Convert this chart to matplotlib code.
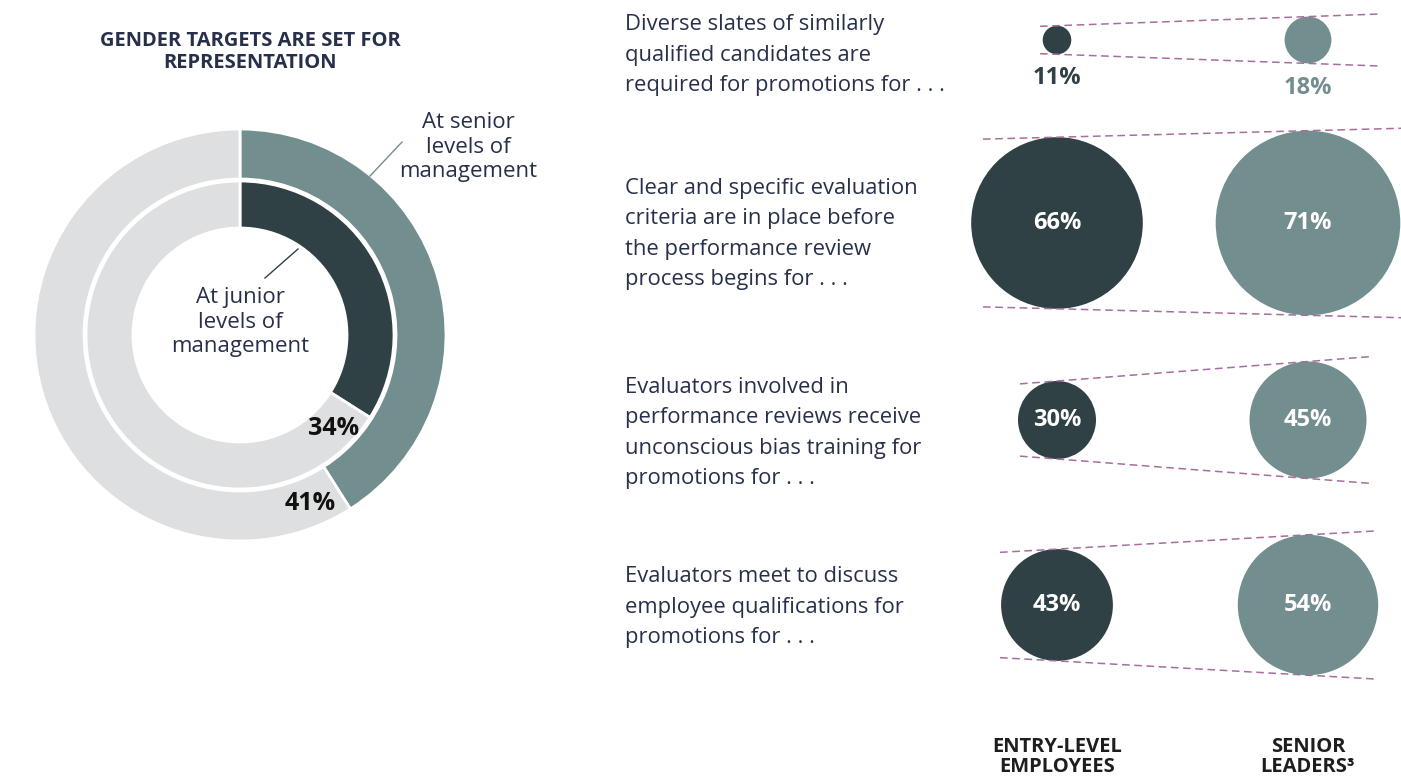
import matplotlib
matplotlib.use("Agg")
import matplotlib.pyplot as plt
from matplotlib.patches import Circle

plt.rcParams['font.family'] = ['Open Sans', 'DejaVu Sans']

# ---- data ----
donut_title = "GENDER TARGETS ARE SET FOR\nREPRESENTATION"
senior_target = 41
junior_target = 34
senior_label = "At senior\nlevels of\nmanagement"
junior_label = "At junior\nlevels of\nmanagement"

practices = [
    "Diverse slates of similarly\nqualified candidates are\nrequired for promotions for . . .",
    "Clear and specific evaluation\ncriteria are in place before\nthe performance review\nprocess begins for . . .",
    "Evaluators involved in\nperformance reviews receive\nunconscious bias training for\npromotions for . . .",
    "Evaluators meet to discuss\nemployee qualifications for\npromotions for . . .",
]
entry_level = [11, 66, 30, 43]
senior_leaders = [18, 71, 45, 54]
column_labels = ["ENTRY-LEVEL\nEMPLOYEES", "SENIOR\nLEADERS\u00b3"]

# ---- style ----
DARK = '#2F4145'
TEAL = '#738E8F'
GREY = '#DEDFE1'
NAVY = '#27304A'
DASH = '#A56E9E'

W, H = 1401, 778
fig = plt.figure(figsize=(W / 100, H / 100), dpi=100)
ax = fig.add_axes([0, 0, 1, 1])

def Y(py):
    return H - py

# ---- donut ----
cx, cy = 240, Y(335)
ax.pie([senior_target, 100 - senior_target], radius=206, center=(cx, cy),
       colors=[TEAL, GREY], startangle=90, counterclock=False,
       wedgeprops=dict(width=50, edgecolor='white', linewidth=2))
ax.pie([junior_target, 100 - junior_target], radius=154, center=(cx, cy),
       colors=[DARK, GREY], startangle=90, counterclock=False,
       wedgeprops=dict(width=47, edgecolor='white', linewidth=2))

ax.text(250, Y(52), donut_title, ha='center', va='center', fontsize=14.5,
        fontweight='bold', color=NAVY, linespacing=1.15)
ax.text(468, Y(147), senior_label, ha='center', va='center', fontsize=16,
        color=NAVY, linespacing=1.22)
ax.plot([370, 402], [Y(176), Y(142)], color=TEAL, lw=1)
ax.text(240, Y(322), junior_label, ha='center', va='center', fontsize=16,
        color=NAVY, linespacing=1.22)
ax.plot([265, 298], [Y(278), Y(249)], color=DARK, lw=1)
ax.text(334, Y(428), f"{junior_target}%", ha='center', va='center',
        fontsize=18, fontweight='bold', color='#111111')
ax.text(310, Y(503), f"{senior_target}%", ha='center', va='center',
        fontsize=18, fontweight='bold', color='#111111')

# ---- bubbles ----
x_entry, x_senior = 1057, 1308
row_y = [40, 223, 420, 605]
text_mid = [55, 234, 433, 607]
scale = 1.3
line_ext = [(1040, 1378), (983, 1401), (1020, 1370), (1000, 1378)]

for i, (txt, e, s) in enumerate(zip(practices, entry_level, senior_leaders)):
    ry = Y(row_y[i])
    re, rs = e * scale, s * scale
    ax.add_patch(Circle((x_entry, ry), re, color=DARK, lw=0))
    ax.add_patch(Circle((x_senior, ry), rs, color=TEAL, lw=0))
    x0, x1 = line_ext[i]
    for sign in (1, -1):
        ya, yb = ry + sign * re, ry + sign * rs
        slope = (yb - ya) / (x_senior - x_entry)
        ax.plot([x0, x1], [ya + slope * (x0 - x_entry), ya + slope * (x1 - x_entry)],
                color=DASH, lw=1.1, ls=(0, (5, 3)))
    ax.text(625, Y(text_mid[i]), txt, ha='left', va='center', fontsize=15.8,
            color=NAVY, linespacing=1.6)
    if i == 0:
        ax.text(x_entry, Y(78), f"{e}%", ha='center', va='center', fontsize=17,
                fontweight='bold', color=DARK)
        ax.text(x_senior, Y(88), f"{s}%", ha='center', va='center', fontsize=17,
                fontweight='bold', color=TEAL)
    else:
        ax.text(x_entry, ry, f"{e}%", ha='center', va='center', fontsize=17,
                fontweight='bold', color='white')
        ax.text(x_senior, ry, f"{s}%", ha='center', va='center', fontsize=17,
                fontweight='bold', color='white')

ax.text(x_entry, Y(757), column_labels[0], ha='center', va='center', fontsize=14.5,
        fontweight='bold', color='#1E1E1E', linespacing=0.95)
ax.text(x_senior, Y(757), column_labels[1], ha='center', va='center', fontsize=14.5,
        fontweight='bold', color='#1E1E1E', linespacing=0.95)

ax.set_xlim(0, W)
ax.set_ylim(0, H)
ax.set_aspect('auto')
ax.axis('off')
fig.savefig('out.png', dpi=100)
